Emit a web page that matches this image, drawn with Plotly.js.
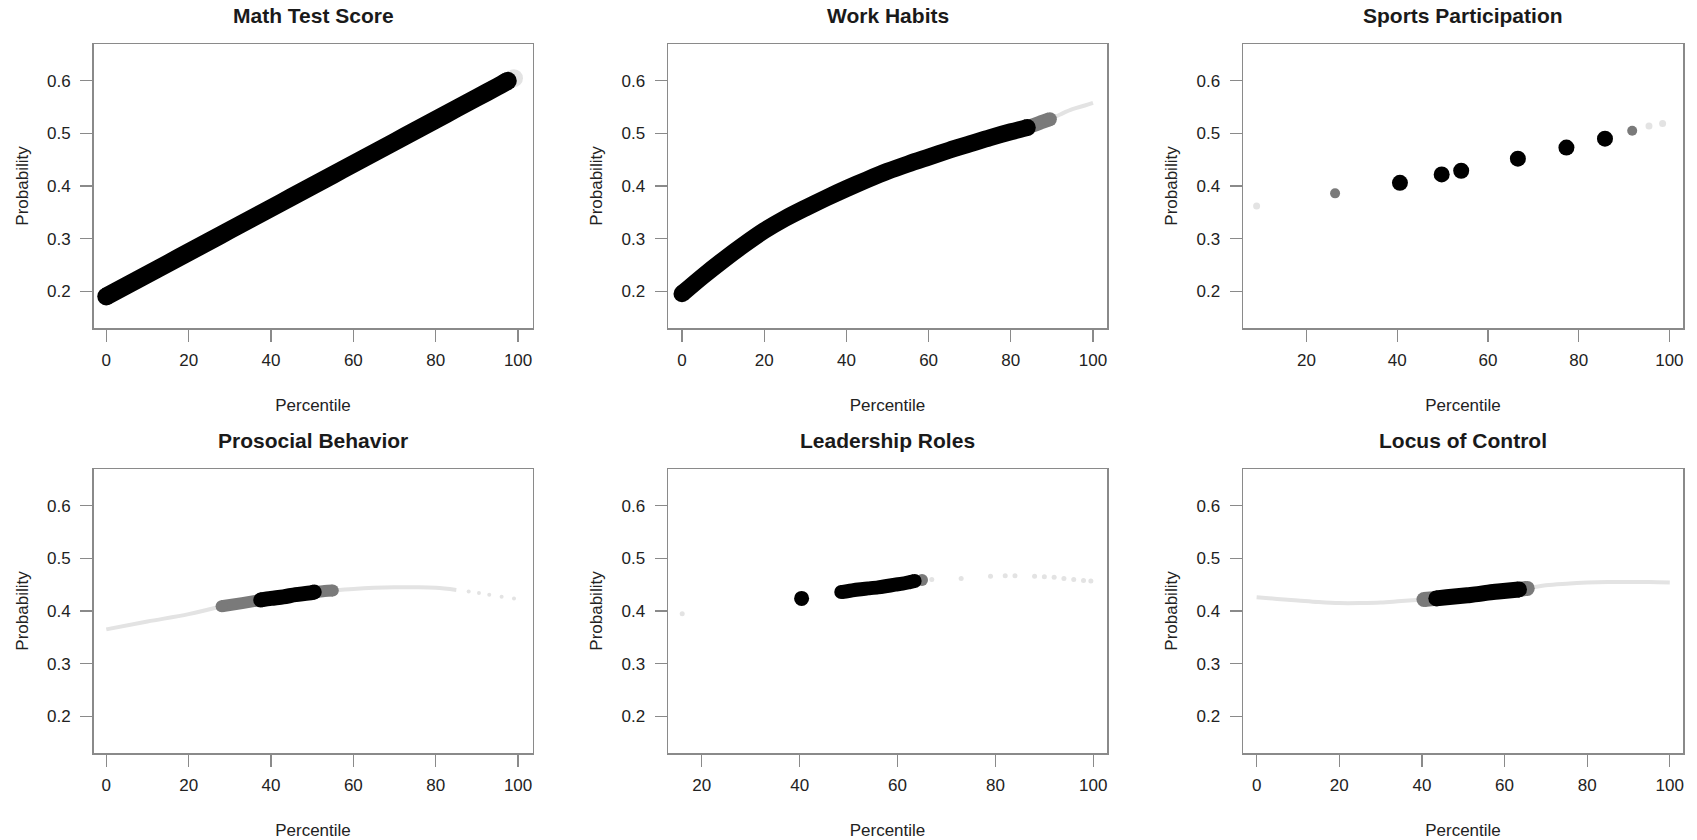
<!DOCTYPE html>
<html>
<head>
<meta charset="utf-8">
<script src="https://cdn.plot.ly/plotly-3.0.1.min.js"></script>
<style>html,body{margin:0;padding:0;background:#fff;}#chart{width:1697px;height:840px;}</style>
</head>
<body>
<div id="chart"></div>
<script>
// ---------- data ----------
const panelTitles = ["Math Test Score", "Work Habits", "Sports Participation",
                     "Prosocial Behavior", "Leadership Roles", "Locus of Control"];
const xTitle = "Percentile";
const yTitle = "Probability";

// Math Test Score
const mathX = [0, 5, 10, 15, 20, 25, 30, 35, 40, 45, 50, 55, 60, 65, 70, 75, 80, 85, 90, 95, 97.5];
const mathY = [0.190, 0.211, 0.232, 0.253, 0.274, 0.295, 0.316, 0.337, 0.358, 0.379, 0.400, 0.421, 0.442, 0.463, 0.484, 0.505, 0.526, 0.547, 0.568, 0.589, 0.600];
const mathEndX = [99];
const mathEndY = [0.605];

// Work Habits
const workBlackX = [0, 5, 10, 15, 20, 25, 30, 35, 40, 45, 50, 55, 60, 65, 70, 75, 80, 84];
const workBlackY = [0.195, 0.228, 0.259, 0.288, 0.315, 0.338, 0.358, 0.377, 0.395, 0.412, 0.428, 0.442, 0.455, 0.468, 0.480, 0.492, 0.503, 0.511];
const workGrayX = [84, 87, 89.5];
const workGrayY = [0.511, 0.520, 0.527];
const workLightX = [89.5, 92, 95, 98, 100];
const workLightY = [0.527, 0.536, 0.546, 0.553, 0.558];

// Sports Participation
const sportBlackX = [40.6, 49.8, 54.1, 66.6, 77.3, 85.8];
const sportBlackY = [0.406, 0.422, 0.429, 0.452, 0.473, 0.490];
const sportGrayX = [26.3, 91.8];
const sportGrayY = [0.386, 0.505];
const sportLightX = [9, 95.5, 98.5];
const sportLightY = [0.362, 0.514, 0.519];

// Prosocial Behavior
const proLightAX = [0, 10, 20, 28];
const proLightAY = [0.365, 0.380, 0.394, 0.409];
const proGrayAX = [28, 33, 37.5];
const proGrayAY = [0.409, 0.415, 0.421];
const proBlackX = [37.5, 40, 43, 46, 49, 50.5];
const proBlackY = [0.421, 0.424, 0.427, 0.431, 0.434, 0.436];
const proGrayBX = [50.5, 53, 55];
const proGrayBY = [0.436, 0.438, 0.439];
const proLightBX = [55, 60, 65, 70, 75, 80, 85];
const proLightBY = [0.439, 0.442, 0.444, 0.445, 0.445, 0.444, 0.440];
const proDotsX = [88, 90.5, 93, 96, 99];
const proDotsY = [0.437, 0.434, 0.431, 0.427, 0.424];

// Leadership Roles
const leadBigX = [40.4];
const leadBigY = [0.424];
const leadBlackX = [48.5, 50, 52, 54, 56, 57.5, 59.5, 61, 62.5, 63.5];
const leadBlackY = [0.436, 0.438, 0.441, 0.443, 0.445, 0.447, 0.450, 0.452, 0.455, 0.457];
const leadGrayX = [65];
const leadGrayY = [0.459];
const leadLightX = [16, 67, 73, 79, 82, 84, 88, 90, 92, 94, 96, 98, 99.5];
const leadLightY = [0.395, 0.460, 0.462, 0.466, 0.467, 0.467, 0.466, 0.465, 0.464, 0.462, 0.460, 0.458, 0.457];

// Locus of Control
const locLightAX = [0, 5, 10, 15, 20, 25, 30, 35, 40.5];
const locLightAY = [0.426, 0.423, 0.420, 0.417, 0.415, 0.415, 0.416, 0.419, 0.422];
const locGrayAX = [40.5, 43.5];
const locGrayAY = [0.422, 0.424];
const locBlackX = [43.5, 46, 48.5, 51, 53.5, 56, 58.5, 61, 63.5];
const locBlackY = [0.424, 0.426, 0.428, 0.430, 0.432, 0.435, 0.437, 0.439, 0.441];
const locGrayBX = [63.5, 65.5];
const locGrayBY = [0.441, 0.443];
const locLightBX = [65.5, 70, 75, 80, 85, 90, 95, 100];
const locLightBY = [0.443, 0.449, 0.452, 0.454, 0.455, 0.455, 0.455, 0.454];

// ---------- styling ----------
const BLACK = "#000000", GRAY = "#7a7a7a", LIGHT = "#e3e3e3";
const FONT = "Liberation Sans, Arial, sans-serif";

// thick band: smooth spline body plus round end caps taken from the same arrays
function band(x, y, color, w, ax) {
  const body = {x: x, y: y, xaxis: "x" + ax, yaxis: "y" + ax, type: "scatter", mode: "lines",
          line: {color: color, width: w, shape: "spline", smoothing: 0.8}, hoverinfo: "skip", showlegend: false};
  const ends = {x: [x[0], x[x.length - 1]], y: [y[0], y[y.length - 1]], xaxis: "x" + ax, yaxis: "y" + ax,
          type: "scatter", mode: "markers", marker: {color: color, size: w}, hoverinfo: "skip", showlegend: false};
  return [body, ends];
}
function dots(x, y, color, s, ax) {
  return [{x: x, y: y, xaxis: "x" + ax, yaxis: "y" + ax, type: "scatter", mode: "markers",
          marker: {color: color, size: s}, hoverinfo: "skip", showlegend: false}];
}
function thin(x, y, color, w, ax) {
  return [{x: x, y: y, xaxis: "x" + ax, yaxis: "y" + ax, type: "scatter", mode: "lines",
          line: {color: color, width: w, shape: "spline"}, hoverinfo: "skip", showlegend: false}];
}

const traces = [].concat(
  // 1 Math
  dots(mathEndX, mathEndY, LIGHT, 18, ""),
  band(mathX, mathY, BLACK, 18, ""),
  // 2 Work
  thin(workLightX, workLightY, LIGHT, 4, "2"),
  band(workGrayX, workGrayY, GRAY, 14, "2"),
  band(workBlackX, workBlackY, BLACK, 17, "2"),
  // 3 Sports
  dots(sportLightX, sportLightY, LIGHT, 7, "3"),
  dots(sportGrayX, sportGrayY, GRAY, 10, "3"),
  dots(sportBlackX, sportBlackY, BLACK, 16, "3"),
  // 4 Prosocial
  thin(proLightAX, proLightAY, LIGHT, 4, "4"),
  thin(proLightBX, proLightBY, LIGHT, 4, "4"),
  dots(proDotsX, proDotsY, LIGHT, 4, "4"),
  band(proGrayAX, proGrayAY, GRAY, 12, "4"),
  band(proGrayBX, proGrayBY, GRAY, 12, "4"),
  band(proBlackX, proBlackY, BLACK, 15, "4"),
  // 5 Leadership
  dots(leadLightX, leadLightY, LIGHT, 5, "5"),
  dots(leadGrayX, leadGrayY, GRAY, 12, "5"),
  band(leadBlackX, leadBlackY, BLACK, 14, "5"),
  dots(leadBigX, leadBigY, BLACK, 15, "5"),
  // 6 Locus
  thin(locLightAX, locLightAY, LIGHT, 4, "6"),
  thin(locLightBX, locLightBY, LIGHT, 4, "6"),
  band(locGrayAX, locGrayAY, GRAY, 15, "6"),
  band(locGrayBX, locGrayBY, GRAY, 15, "6"),
  band(locBlackX, locBlackY, BLACK, 16, "6")
);

// ---------- layout ----------
const W = 1697, H = 840;
const cols = [[93.5, 532.5], [668, 1107], [1243, 1683]];
const rows = [[44, 328], [469, 753]];
const xRanges = [[-3.1, 103.5], [-3.4, 103.4], [6, 103], [-3.1, 103.5], [13.1, 102.8], [-3.3, 103.2]];

const layout = {
  width: W, height: H, margin: {l: 0, r: 0, t: 0, b: 0},
  paper_bgcolor: "#fff", plot_bgcolor: "#fff",
  font: {family: FONT, size: 17, color: "#222"},
  showlegend: false, annotations: []
};

for (let i = 0; i < 6; i++) {
  const c = cols[i % 3], r = rows[Math.floor(i / 3)];
  const sfx = i === 0 ? "" : String(i + 1);
  const common = {
    showline: true, mirror: true, linecolor: "#8a8a8a", linewidth: 1.5,
    ticks: "outside", ticklen: 12, tickwidth: 1.3, tickcolor: "#8a8a8a",
    showgrid: false, zeroline: false, fixedrange: true,
    tickfont: {family: FONT, size: 17, color: "#222"}
  };
  layout["xaxis" + sfx] = Object.assign({}, common, {
    domain: [c[0] / W, c[1] / W], anchor: "y" + sfx, range: xRanges[i],
    tickmode: "linear", tick0: 0, dtick: 20, ticklabelstandoff: 4,
    title: {text: xTitle, font: {family: FONT, size: 17, color: "#222"}, standoff: 30}
  });
  layout["yaxis" + sfx] = Object.assign({}, common, {
    domain: [1 - r[1] / H, 1 - r[0] / H], anchor: "x" + sfx, range: [0.13, 0.67],
    tickmode: "linear", tick0: 0, dtick: 0.1, tickformat: ".1f", ticklabelstandoff: 6,
    title: {text: yTitle, font: {family: FONT, size: 17, color: "#222"}, standoff: 14}
  });
  layout.annotations.push({
    text: "<b>" + panelTitles[i] + "</b>", xref: "paper", yref: "paper",
    x: (c[0] + c[1]) / 2 / W, y: 1 - (r[0] - 29) / H, xanchor: "center", yanchor: "middle",
    showarrow: false, font: {family: FONT, size: 21, color: "#1a1a1a"}
  });
}

Plotly.newPlot("chart", traces, layout, {displayModeBar: false, staticPlot: true});
</script>
</body>
</html>
